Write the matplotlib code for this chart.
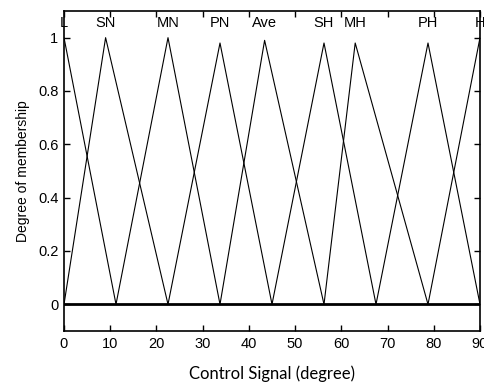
import matplotlib
matplotlib.use("Agg")
import matplotlib.pyplot as plt

# Membership function names and triangle parameters (left foot, peak, right foot, peak height)
names = ["L", "SN", "MN", "PN", "Ave", "SH", "MH", "PH", "H"]
left_feet = [-11.25, 0, 11.25, 22.5, 33.75, 45, 56.25, 67.5, 78.75]
peaks = [0, 9, 22.5, 33.75, 43.4, 56.25, 63, 78.75, 90]
right_feet = [11.25, 22.5, 33.75, 45, 56.25, 67.5, 78.75, 90, 101.25]
heights = [1.0, 1.0, 1.0, 0.98, 0.99, 0.98, 0.98, 0.98, 1.0]

xticks = [0, 10, 20, 30, 40, 50, 60, 70, 80, 90]
yticks = [0, 0.2, 0.4, 0.6, 0.8, 1]
ytick_labels = ["0", "0.2", "0.4", "0.6", "0.8", "1"]

plt.rcParams['font.family'] = ['Liberation Sans', 'DejaVu Sans']

fig = plt.figure(figsize=(4.84, 3.85), dpi=100)
ax = fig.add_axes([64/484, 54/385, 416/484, 320/385])

for a, b, c, h in zip(left_feet, peaks, right_feet, heights):
    ax.plot([a, b, c], [0, h, 0], color='black', linewidth=0.8, clip_on=True)

ax.axhline(0, color='black', linewidth=2)

for n, p in zip(names, peaks):
    ax.text(p, 1.055, n, ha='center', va='center', fontsize=10.5)

ax.set_xlim(0, 90)
ax.set_ylim(-0.1, 1.1)
ax.set_xticks(xticks)
ax.set_yticks(yticks)
ax.set_yticklabels(ytick_labels)
ax.tick_params(direction='in', top=True, right=True, labelsize=10.5, length=4, width=1, pad=4)
for s in ax.spines.values():
    s.set_linewidth(1.2)

ax.set_ylabel("Degree of membership", fontsize=10, labelpad=6)
ax.set_xlabel("Control Signal (degree)", fontsize=12, family=['Lato', 'DejaVu Sans'], labelpad=11)

fig.savefig("out.png", dpi=100)
